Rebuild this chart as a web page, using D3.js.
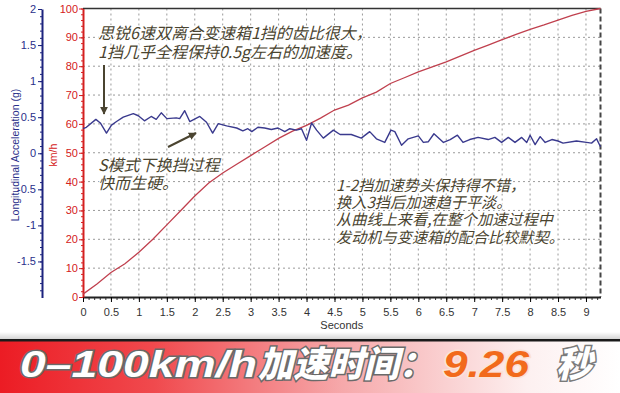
<!DOCTYPE html>
<html>
<head>
<meta charset="utf-8">
<script src="https://cdn.jsdelivr.net/npm/d3@7"></script>
<style>
  body { margin: 0; background: #fff; }
  svg { display: block; }
  text { font-family: "Liberation Sans", Arial, sans-serif; }
  .cn { font-family: "Noto Sans CJK SC", sans-serif; }
</style>
</head>
<body>
<svg id="chart"></svg>
<script>
// 车速 (km/h)
const speedTime = [0, 0.25, 0.5, 0.75, 1, 1.25, 1.5, 1.75, 2, 2.25, 2.5, 2.75, 3, 3.25, 3.5, 3.75,
  4, 4.25, 4.5, 4.75, 5, 5.25, 5.5, 5.75, 6, 6.25, 6.5, 6.75, 7, 7.25, 7.5, 7.75, 8, 8.25, 8.5, 8.75, 9, 9.26];
const speedValues = [1, 4.5, 8.5, 11.5, 15.5, 20, 25, 30, 35, 39.5, 43, 46, 49, 52, 55, 57.5,
  59.5, 62, 64.8, 66.5, 69, 71, 74, 76, 78, 79.8, 81.5, 83.5, 85.5, 87.3, 89.2, 91, 92.8, 94.3, 96, 97.6, 99, 100];

// 纵向加速度 (g)
const accTime = [0, 0.06, 0.23, 0.31, 0.42, 0.51, 0.6, 0.72, 0.9, 0.99, 1.1, 1.22, 1.31, 1.4, 1.5, 1.67,
  1.73, 1.82, 1.91, 2.09, 2.21, 2.32, 2.42, 2.57, 2.75, 2.86, 2.95, 3.02, 3.13, 3.25, 3.37, 3.49, 3.61,
  3.7, 3.82, 3.91, 4.0, 4.09, 4.18, 4.3, 4.48, 4.6, 4.8, 4.98, 5.13, 5.25, 5.4, 5.51, 5.58, 5.7, 5.82,
  6.0, 6.09, 6.18, 6.28, 6.45, 6.57, 6.7, 6.8, 6.92, 7.07, 7.25, 7.37, 7.49, 7.61, 7.73, 7.85, 7.94,
  8.0, 8.09, 8.18, 8.27, 8.39, 8.5, 8.59, 8.83, 9.01, 9.1, 9.19, 9.26];
const accValues = [0.34, 0.36, 0.47, 0.42, 0.28, 0.39, 0.44, 0.5, 0.55, 0.52, 0.45, 0.51, 0.47, 0.56, 0.48, 0.49,
  0.48, 0.59, 0.44, 0.51, 0.43, 0.28, 0.41, 0.38, 0.35, 0.31, 0.34, 0.3, 0.36, 0.35, 0.33, 0.35, 0.3,
  0.34, 0.32, 0.34, 0.18, 0.42, 0.32, 0.21, 0.32, 0.26, 0.26, 0.21, 0.3, 0.2, 0.15, 0.32, 0.3, 0.11, 0.2,
  0.24, 0.15, 0.16, 0.27, 0.15, 0.19, 0.25, 0.15, 0.19, 0.22, 0.19, 0.22, 0.15, 0.22, 0.15, 0.22, 0.15,
  0.25, 0.12, 0.23, 0.15, 0.19, 0.17, 0.14, 0.17, 0.15, 0.14, 0.2, 0.09];

const xTicks = [0, 0.5, 1, 1.5, 2, 2.5, 3, 3.5, 4, 4.5, 5, 5.5, 6, 6.5, 7, 7.5, 8, 8.5, 9];
const speedTicks = [0, 10, 20, 30, 40, 50, 60, 70, 80, 90, 100];
const accTicks = [-1.5, -1, -0.5, 0, 0.5, 1, 1.5, 2];

const notes = [
  { x: 98, y: 39, size: 16, gap: 18.5, lines: ["思锐6速双离合变速箱1挡的齿比很大，", "1挡几乎全程保持0.5g左右的加速度。"] },
  { x: 98, y: 171, size: 16, gap: 18, lines: ["S模式下换挡过程", "快而生硬。"] },
  { x: 336, y: 191, size: 15.2, gap: 17.2, lines: ["1-2挡加速势头保持得不错，", "换入3挡后加速趋于平淡。", "从曲线上来看,在整个加速过程中", "发动机与变速箱的配合比较默契。"] }
];

const W = 620, H = 393;
const svg = d3.select('#chart').attr('width', W).attr('height', H);

const x = d3.scaleLinear().domain([0, 9.26]).range([83, 600.5]);
const ySpeed = d3.scaleLinear().domain([0, 100]).range([297, 8.5]);
const yAcc = d3.scaleLinear().domain([-2, 2]).range([297.5, 9]);

// grid
const grid = svg.append('g').attr('stroke', '#9a9a9a').attr('stroke-dasharray', '2,3').attr('stroke-width', 1);
grid.selectAll('line.v').data(xTicks.slice(1)).enter().append('line')
  .attr('x1', d => x(d)).attr('x2', d => x(d)).attr('y1', ySpeed(100)).attr('y2', ySpeed(0));
grid.selectAll('line.h').data(speedTicks.slice(1, -1)).enter().append('line')
  .attr('x1', x(0)).attr('x2', x(9.26)).attr('y1', d => ySpeed(d)).attr('y2', d => ySpeed(d));

// frame: top solid, right dashed
svg.append('line').attr('x1', x(0)).attr('x2', x(9.26)).attr('y1', ySpeed(100)).attr('y2', ySpeed(100))
  .attr('stroke', '#333').attr('stroke-width', 1.5);
svg.append('line').attr('x1', x(9.26)).attr('x2', x(9.26)).attr('y1', ySpeed(100)).attr('y2', ySpeed(0))
  .attr('stroke', '#444').attr('stroke-width', 2).attr('stroke-dasharray', '5,3');

// x axis
const xMinor = svg.append('g').attr('transform', 'translate(0,' + ySpeed(0) + ')')
  .call(d3.axisBottom(x).tickValues(d3.range(0, 93).map(i => i / 10)).tickSize(3).tickFormat(''));
xMinor.select('.domain').remove();
xMinor.selectAll('line').attr('stroke', '#333');
const xAxis = svg.append('g').attr('transform', 'translate(0,' + ySpeed(0) + ')')
  .call(d3.axisBottom(x).tickValues(xTicks).tickSize(5).tickSizeOuter(0).tickFormat(d => String(d)));
xAxis.select('.domain').attr('stroke', '#222').attr('stroke-width', 2);
xAxis.selectAll('text').attr('font-size', 11).attr('fill', '#333').attr('dy', '1em');
svg.append('text').attr('x', (x(0) + x(9.26)) / 2).attr('y', 329).attr('text-anchor', 'middle')
  .attr('font-size', 11).attr('fill', '#333').text('Seconds');

// speed axis (red)
const ySpMinor = svg.append('g').attr('transform', 'translate(' + x(0) + ',0)')
  .call(d3.axisLeft(ySpeed).tickValues(d3.range(0, 101, 2)).tickSize(2).tickFormat(''));
ySpMinor.select('.domain').remove();
ySpMinor.selectAll('line').attr('stroke', '#d22');
const ySpAxis = svg.append('g').attr('transform', 'translate(' + x(0) + ',0)')
  .call(d3.axisLeft(ySpeed).tickValues(speedTicks).tickSize(4).tickSizeOuter(0));
ySpAxis.select('.domain').attr('stroke', '#d42020').attr('stroke-width', 2);
ySpAxis.selectAll('line').attr('stroke', '#d42020');
ySpAxis.selectAll('text').attr('fill', '#d42020').attr('font-size', 11).attr('x', -5);
svg.append('text').attr('transform', 'translate(57,155) rotate(-90)').attr('text-anchor', 'middle')
  .attr('font-size', 10.5).attr('fill', '#d42020').text('km/h');

// acceleration axis (blue)
const yAcMinor = svg.append('g').attr('transform', 'translate(42,0)')
  .call(d3.axisLeft(yAcc).tickValues(d3.range(-19, 21).map(i => i / 10)).tickSize(2).tickFormat(''));
yAcMinor.select('.domain').remove();
yAcMinor.selectAll('line').attr('stroke', '#1c237e');
const yAcAxis = svg.append('g').attr('transform', 'translate(42,0)')
  .call(d3.axisLeft(yAcc).tickValues(accTicks).tickSize(4).tickSizeOuter(0).tickFormat(d => String(d)));
yAcAxis.select('.domain').attr('stroke', '#1c237e').attr('stroke-width', 2);
yAcAxis.selectAll('line').attr('stroke', '#1c237e');
yAcAxis.selectAll('text').attr('fill', '#2a2f8a').attr('font-size', 11).attr('x', -6);
svg.append('text').attr('transform', 'translate(19,155) rotate(-90)').attr('text-anchor', 'middle')
  .attr('font-size', 10.5).attr('fill', '#2a2f8a').text('Longitudinal Acceleration (g)');

// series
const speedLine = d3.line().x((d, i) => x(speedTime[i])).y(d => ySpeed(d));
svg.append('path').datum(speedValues).attr('d', speedLine)
  .attr('fill', 'none').attr('stroke', '#c0404e').attr('stroke-width', 1.3);
const accLine = d3.line().x((d, i) => x(accTime[i])).y(d => yAcc(d));
svg.append('path').datum(accValues).attr('d', accLine)
  .attr('fill', 'none').attr('stroke', '#3a3a8e').attr('stroke-width', 1.4).attr('stroke-linejoin', 'round');

// annotations
const noteColor = '#4a4430';
svg.append('defs').append('marker').attr('id', 'head').attr('viewBox', '0 0 10 10')
  .attr('refX', 9).attr('refY', 5).attr('markerWidth', 4).attr('markerHeight', 4).attr('orient', 'auto')
  .append('path').attr('d', 'M0,0L10,5L0,10z').attr('fill', noteColor);
svg.append('line').attr('x1', 104).attr('y1', 65).attr('x2', 104).attr('y2', 114)
  .attr('stroke', noteColor).attr('stroke-width', 2).attr('marker-end', 'url(#head)');
svg.append('line').attr('x1', 168).attr('y1', 147).attr('x2', 196).attr('y2', 133)
  .attr('stroke', noteColor).attr('stroke-width', 2).attr('marker-end', 'url(#head)');

notes.forEach(n => {
  const t = svg.append('text').attr('class', 'cn').attr('font-size', n.size).attr('font-style', 'italic')
    .attr('fill', noteColor).attr('stroke', '#fff').attr('stroke-width', 2.5).attr('paint-order', 'stroke');
  n.lines.forEach((l, i) => {
    t.append('tspan').attr('x', n.x).attr('y', n.y + i * n.gap).text(l);
  });
});

// banner
const defs = svg.select('defs');
const g1 = defs.append('linearGradient').attr('id', 'band').attr('x1', 0).attr('x2', 1).attr('y1', 0).attr('y2', 0);
g1.append('stop').attr('offset', '0%').attr('stop-color', '#ec1c24');
g1.append('stop').attr('offset', '25%').attr('stop-color', '#f04a4e');
g1.append('stop').attr('offset', '55%').attr('stop-color', '#f6a8aa');
g1.append('stop').attr('offset', '85%').attr('stop-color', '#fdf0f0');
g1.append('stop').attr('offset', '100%').attr('stop-color', '#ffffff');
const g2 = defs.append('linearGradient').attr('id', 'shade').attr('x1', 0).attr('x2', 0).attr('y1', 0).attr('y2', 1);
g2.append('stop').attr('offset', '0%').attr('stop-color', '#fff');
g2.append('stop').attr('offset', '100%').attr('stop-color', '#cfcfcf');
svg.append('rect').attr('x', 0).attr('y', 332).attr('width', W).attr('height', 8).attr('fill', 'url(#shade)');
svg.append('rect').attr('x', 0).attr('y', 341).attr('width', W).attr('height', H - 341).attr('fill', 'url(#band)');
svg.append('rect').attr('x', 0).attr('y', 339).attr('width', W).attr('height', 2.5).attr('fill', '#1a1a1a');

const bannerFont = '"Liberation Sans", "Noto Sans CJK SC", sans-serif';
function bannerText(txt, x0, len, fill, stroke) {
  svg.append('text').attr('x', x0).attr('y', 377).attr('font-size', 36).attr('font-weight', 900)
    .attr('font-style', 'italic').style('font-family', bannerFont)
    .attr('textLength', len).attr('lengthAdjust', 'spacingAndGlyphs')
    .attr('fill', fill).attr('stroke', stroke).attr('stroke-width', 3).attr('paint-order', 'stroke')
    .text(txt);
}
bannerText('0–100km/h', 20, 237, '#fff', '#6a6a6a');
bannerText('加速时间：', 258, 176, '#fff', '#6a6a6a');
bannerText('9.26', 443, 86, '#f26a1b', '#fbe3d6');
bannerText('秒', 556, 36, '#fff', '#7a7a7a');
</script>
</body>
</html>
